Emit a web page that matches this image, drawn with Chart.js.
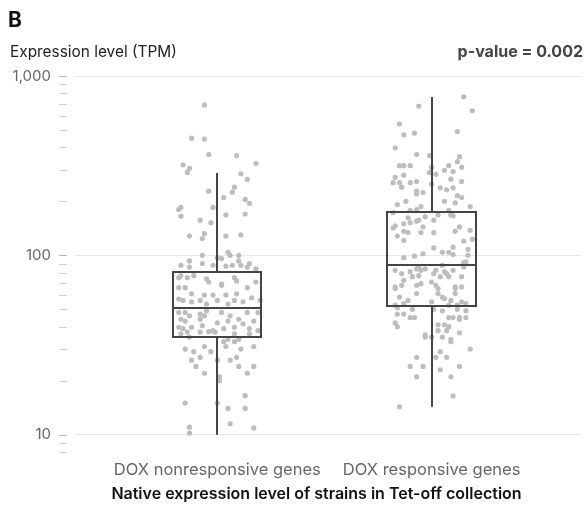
<!DOCTYPE html>
<html>
<head>
<meta charset="utf-8">
<script src="https://cdn.jsdelivr.net/npm/chart.js@4.4.1/dist/chart.umd.min.js"></script>
<style>
  html, body { margin: 0; padding: 0; background: #fff; }
</style>
</head>
<body>
<canvas id="myChart" width="585" height="508"></canvas>
<script>
// categories and tick labels
const categories = ["DOX nonresponsive genes", "DOX responsive genes"];
const yTickValues = [8, 9, 10, 20, 30, 40, 50, 60, 70, 80, 90, 100, 200, 300, 400, 500, 600, 700, 800, 900, 1000];
const yLabelValues = [10, 100, 1000];

// box plot summary per category
const whiskerLow = [10, 14.3];
const q1 = [35.2, 52.3];
const median = [51, 88.5];
const q3 = [80.9, 174.7];
const whiskerHigh = [288, 764];

// individual genes: [jitter, TPM]
const nonResponsivePoints = [
  [-0.06, 690], [-0.12, 450], [-0.06, 445], [-0.04, 365], [0.09, 360], [-0.16, 320], [-0.13, 305], [-0.14, 290],
  [0.18, 325], [0.11, 285], [0.14, 265], [0.08, 240], [0.07, 225], [-0.04, 228], [0.03, 210], [0.13, 205],
  [0.15, 195], [-0.02, 185], [-0.18, 180], [-0.17, 185], [-0.17, 165], [0.04, 168], [0.13, 170], [-0.08, 157],
  [-0.03, 152], [-0.13, 128], [-0.06, 132], [-0.07, 124], [0.04, 128], [0.11, 130], [-0.07, 100], [0.05, 104],
  [0.06, 100], [0.10, 100], [0, 97], [0.02, 96], [-0.13, 93], [-0.07, 90], [0.10, 93], [0.15, 90],
  [-0.02, 88], [0.11, 88], [-0.13, 86], [0.14, 86], [0.04, 87], [0.07, 88], [0.18, 84], [-0.17, 88],
  // inside the box
  [-0.18, 75], [-0.17, 77], [-0.14, 75], [-0.11, 77], [-0.05, 74], [-0.04, 71], [0.02, 68], [0.02, 69],
  [0.08, 75], [0.09, 72], [0.18, 71], [-0.18, 66], [-0.15, 66], [0.14, 66], [-0.12, 61], [-0.06, 60],
  [-0.02, 60], [0.04, 60], [0.09, 61], [0.16, 58], [-0.18, 57], [-0.16, 56], [-0.12, 55], [-0.08, 56],
  [-0.05, 53.5], [0, 56], [0.05, 53.5], [0.08, 56], [0.12, 55], [0.2, 56],
  [-0.18, 48], [-0.15, 48], [-0.13, 46], [-0.08, 47], [-0.06, 46], [-0.05, 49], [0.02, 48], [0.06, 46],
  [0.14, 48], [0.19, 48], [-0.17, 44], [-0.15, 43], [-0.08, 44], [0, 42], [0.05, 43], [0.10, 44],
  [0.12, 41.5], [0.17, 43], [-0.18, 39.7], [-0.16, 39], [-0.12, 39.7], [-0.07, 40.5], [-0.02, 38], [0.03, 39],
  [0.08, 39.7], [0.15, 39], [-0.17, 36.5], [-0.14, 37.3], [-0.08, 37.3], [-0.04, 37.5], [-0.01, 37.3], [0.08, 36.5],
  [0.15, 36.5], [0.19, 38],
  // below the box
  [-0.13, 35], [0.05, 34], [0.03, 33], [0.08, 33], [0.10, 34], [0.17, 31], [-0.15, 30],
  [-0.11, 29], [-0.06, 31], [-0.03, 29], [0.04, 31], [0.11, 30], [-0.12, 26], [-0.08, 27], [0.06, 26],
  [0.09, 27], [0.10, 24], [0.17, 24], [-0.10, 24], [0, 26], [-0.06, 22], [0.14, 22], [0.01, 21],
  [0.01, 20], [-0.15, 15], [0, 15], [0.05, 14], [0.13, 14], [0.13, 16.5], [0.06, 11.5], [-0.13, 11],
  [-0.13, 10.2], [0.17, 10.9]
];

const responsivePoints = [
  [0.15, 765], [0.19, 640], [-0.06, 680], [-0.15, 540], [-0.13, 470], [-0.08, 480], [0.12, 490], [-0.17, 398],
  [-0.07, 365], [-0.01, 360], [0.13, 355], [-0.15, 316], [-0.13, 316], [-0.10, 316], [0.08, 316], [0.12, 333],
  [0.14, 310], [0, 310], [-0.01, 290], [0.02, 283], [0.06, 298], [0.10, 293], [-0.13, 280], [-0.17, 272],
  [-0.18, 254], [-0.15, 254], [-0.14, 240], [-0.10, 254], [-0.07, 258], [0.09, 266], [0.14, 258], [0, 250],
  [-0.07, 228], [-0.07, 220], [-0.04, 224], [0.04, 238], [0.07, 232], [0.10, 238], [0.12, 215], [0.14, 210],
  [0.06, 200], [-0.12, 200], [-0.16, 192], [-0.05, 187], [0.11, 196], [0.18, 187], [-0.10, 178], [-0.07, 180],
  [0.08, 178], [0.09, 168], [0.10, 166], [-0.18, 173], [-0.11, 162], [-0.03, 164], [0.03, 168], [-0.07, 155],
  [-0.06, 157], [-0.13, 150], [-0.10, 152], [0.01, 157], [-0.17, 146], [-0.18, 142], [-0.04, 144], [0.13, 144],
  [0.18, 138], [0.11, 136], [-0.13, 136], [-0.11, 134], [-0.05, 134], [0.01, 134], [-0.16, 128], [-0.13, 121],
  [0.15, 120], [0.19, 123], [0.10, 111], [0.01, 110], [0.08, 104], [0.05, 104], [0.17, 108], [-0.04, 102],
  [-0.08, 99], [-0.13, 97], [0.10, 101], [0.17, 100], [0.15, 91],
  // lower half of the box
  [-0.17, 82.5], [-0.14, 79], [-0.10, 81], [-0.07, 84], [-0.06, 85], [-0.05, 82.5], [-0.03, 84], [0.01, 79],
  [0.02, 82.5], [0.05, 88], [0.06, 81], [0.10, 82.5], [0.15, 86], [0.16, 92], [-0.13, 72.5], [-0.09, 76],
  [-0.06, 77], [0, 71], [0.04, 76], [0.07, 79], [0.08, 76], [0.14, 76], [-0.17, 66.6], [-0.17, 65.2],
  [-0.14, 68], [-0.07, 68], [-0.05, 69.5], [0.02, 68], [0.03, 65.2], [0.11, 66.6], [0.11, 65.2], [0.14, 66.6],
  [-0.15, 58.5], [-0.11, 56], [-0.07, 61.2], [0.03, 61.2], [0.05, 58.5], [0.06, 57.4], [0.09, 56], [0.11, 61.2],
  [0.14, 55], [0.16, 53.8], [-0.17, 52.7], [-0.13, 53.8], [0, 55], [0.08, 52.7], [0.12, 52.7],
  // below the box
  [0.01, 50], [-0.16, 51], [-0.13, 47], [-0.09, 50], [0.05, 49], [0.12, 50], [0.16, 49], [-0.16, 47],
  [-0.08, 45], [-0.10, 45], [0.08, 45], [0.10, 45], [0.13, 45], [0.16, 45], [0.13, 44], [-0.17, 42],
  [-0.16, 40], [0.03, 41], [0.06, 41], [0.08, 40], [0.03, 38], [0.07, 38], [-0.03, 36], [-0.03, 35],
  [0, 35], [0.05, 35], [0.09, 34], [0.09, 33], [0.13, 37], [0.18, 30], [0.04, 29], [0.02, 27],
  [0.07, 27], [-0.07, 27], [-0.10, 24], [-0.04, 24], [0.04, 23], [0.13, 24], [-0.07, 21], [0.09, 21],
  [0.10, 16.4], [-0.15, 14.3]
];

const pValueText = "p-value = 0.002";
const panelLetter = "B";
const yTitle = "Expression level (TPM)";
const xTitle = "Native expression level of strains in Tet-off collection";

const FONT = "Inter, 'Noto Sans', sans-serif";
const boxHalfWidth = 0.206;

// draws the boxes, whiskers, y tick marks and the free texts
const boxPlotPlugin = {
  id: 'boxPlot',
  afterDatasetsDraw(chart) {
    const {ctx, scales: {x, y}} = chart;
    ctx.save();
    ctx.strokeStyle = '#444';
    ctx.lineWidth = 2;
    categories.forEach((c, i) => {
      const cx = Math.round(x.getPixelForValue(i));
      const left = Math.round(x.getPixelForValue(i - boxHalfWidth));
      const right = Math.round(x.getPixelForValue(i + boxHalfWidth));
      const yTop = Math.round(y.getPixelForValue(q3[i]));
      const yBot = Math.round(y.getPixelForValue(q1[i]));
      const yMed = Math.round(y.getPixelForValue(median[i]));
      ctx.beginPath();
      ctx.moveTo(cx, y.getPixelForValue(whiskerHigh[i]));
      ctx.lineTo(cx, yTop);
      ctx.moveTo(cx, yBot);
      ctx.lineTo(cx, y.getPixelForValue(whiskerLow[i]));
      ctx.stroke();
      ctx.strokeRect(left, yTop, right - left, yBot - yTop);
      ctx.beginPath();
      ctx.moveTo(left, yMed);
      ctx.lineTo(right, yMed);
      ctx.stroke();
    });
    ctx.restore();
  },
  afterDraw(chart) {
    const {ctx, scales: {y}} = chart;
    ctx.save();
    ctx.lineWidth = 1;
    y.ticks.forEach(t => {
      const py = Math.round(y.getPixelForValue(t.value)) + 0.5;
      ctx.strokeStyle = yLabelValues.includes(t.value) ? '#b5b5b5' : '#d0d0d0';
      ctx.beginPath();
      ctx.moveTo(59, py);
      ctx.lineTo(67, py);
      ctx.stroke();
    });

    ctx.textBaseline = 'alphabetic';
    ctx.fillStyle = '#111';
    ctx.textAlign = 'left';
    ctx.font = "bold 21px " + FONT;
    ctx.fillText(panelLetter, 8, 27);

    ctx.font = "15.4px " + FONT;
    ctx.fillStyle = '#222';
    ctx.fillText(yTitle, 10, 57);

    ctx.font = "bold 16px " + FONT;
    ctx.fillStyle = '#444';
    ctx.textAlign = 'right';
    ctx.fillText(pValueText, 583, 57);

    ctx.font = "600 16px " + FONT;
    ctx.fillStyle = '#111';
    ctx.textAlign = 'center';
    ctx.fillText(xTitle, 316.5, 499);
    ctx.restore();
  }
};

const ctx = document.getElementById('myChart').getContext('2d');

let config = {
  data: {
    datasets: [{
      type: 'scatter',
      label: categories[0],
      data: nonResponsivePoints.map(([j, v]) => ({x: 0 + j, y: v})),
      backgroundColor: '#bdbdbd',
      borderWidth: 0,
      pointRadius: 2.6,
    }, {
      type: 'scatter',
      label: categories[1],
      data: responsivePoints.map(([j, v]) => ({x: 1 + j, y: v})),
      backgroundColor: '#bdbdbd',
      borderWidth: 0,
      pointRadius: 2.6,
    }]
  },
  options: {
    responsive: false,
    animation: false,
    events: [],
    layout: { padding: { top: 76, left: 0, right: 0, bottom: 0 } },
    plugins: {
      legend: { display: false },
      tooltip: { enabled: false },
      title: { display: false },
    },
    scales: {
      x: {
        type: 'linear',
        min: -0.664,
        max: 1.697,
        afterBuildTicks: (scale) => {
          scale.ticks = categories.map((c, i) => ({value: i}));
        },
        afterFit: (scale) => { scale.height = 52; },
        grid: { display: false },
        border: { display: false },
        ticks: {
          autoSkip: false,
          maxRotation: 0,
          padding: -4,
          color: '#666',
          font: { family: FONT, size: 16.5 },
          callback: (v) => categories[v],
        },
      },
      y: {
        type: 'logarithmic',
        min: 7.6,
        max: 1000,
        afterBuildTicks: (scale) => {
          scale.ticks = yTickValues.map(v => ({value: v, major: yLabelValues.includes(v)}));
        },
        afterFit: (scale) => { scale.width = 75; },
        border: { display: false },
        grid: {
          drawTicks: false,
          color: (c) => (c.tick && yLabelValues.includes(c.tick.value)) ? '#e8e8e8' : 'rgba(0,0,0,0)',
        },
        ticks: {
          autoSkip: false,
          padding: 24,
          color: '#666',
          font: { family: FONT, size: 15 },
          callback: (v) => yLabelValues.includes(v) ? v.toLocaleString('en-US') : '',
        },
      }
    }
  },
  plugins: [boxPlotPlugin],
};

let graphic = new Chart(ctx, config);
</script>
</body>
</html>
